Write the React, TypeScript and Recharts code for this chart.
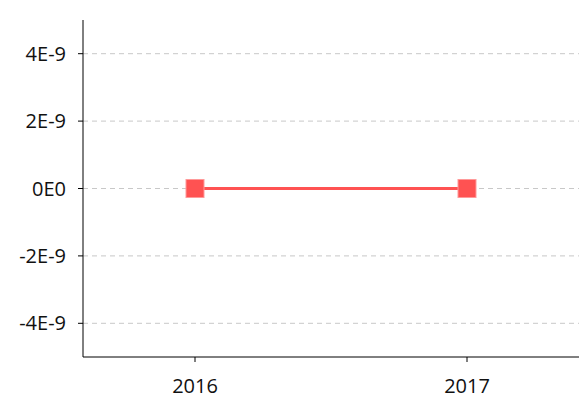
import { LineChart, Line, XAxis, YAxis, CartesianGrid } from "recharts";

const years = ["2016", "2017"];
const values = [0, 0];
const yTicks = [-4e-9, -2e-9, 0, 2e-9, 4e-9];

const data = years.map((year, i) => ({ year, value: values[i] }));

const formatSci = (v: number) => {
  if (v === 0) return "0E0";
  const exp = Math.floor(Math.log10(Math.abs(v)));
  const mant = Math.round(v / Math.pow(10, exp));
  return `${mant}E${exp}`;
};

const SquareDot = (props: any) => {
  const { cx, cy } = props;
  if (cx == null || cy == null) return null;
  return (
    <rect
      x={cx - 9}
      y={cy - 9}
      width={18}
      height={18}
      fill="#ff5252"
      stroke="#ff9a9a"
      strokeWidth={1}
    />
  );
};

const tickStyle = { fill: "#111", fontSize: 20, fontFamily: "Open Sans" };

const App = () => {
  return (
    <div style={{ position: "absolute", left: 0, top: 0 }}>
      <LineChart
        width={581}
        height={402}
        data={data}
        margin={{ top: 20, right: 2, bottom: 0, left: 0 }}
      >
        <CartesianGrid
          vertical={false}
          horizontalValues={yTicks}
          strokeDasharray="5 4"
          stroke="#c8c8c8"
        />
        <XAxis
          dataKey="year"
          padding={{ left: 112, right: 112 }}
          height={45}
          axisLine={{ stroke: "#000" }}
          tickLine={{ stroke: "#000" }}
          tickSize={5}
          tickMargin={17}
          tick={tickStyle}
        />
        <YAxis
          domain={[-5e-9, 5e-9]}
          ticks={yTicks}
          tickFormatter={formatSci}
          width={83}
          axisLine={{ stroke: "#000" }}
          tickLine={{ stroke: "#000" }}
          tickSize={5}
          tickMargin={12}
          tick={tickStyle}
        />
        <Line
          dataKey="value"
          stroke="#ff5252"
          strokeWidth={3}
          dot={<SquareDot />}
          activeDot={false}
          isAnimationActive={false}
        />
      </LineChart>
    </div>
  );
};

export default App;
